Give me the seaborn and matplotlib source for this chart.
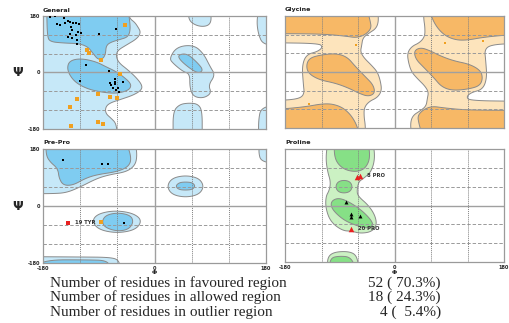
import numpy as np
import pandas as pd
import matplotlib
matplotlib.use("Agg")
import matplotlib.pyplot as plt
import seaborn as sns

sns.set_theme(style="white")
plt.rcParams['font.family'] = ['DejaVu Sans']

# ---------------- colours ----------------
BLUE_DARK, BLUE_LIGHT = "#7FCCF1", "#C6E8F8"
ORANGE_DARK, ORANGE_LIGHT = "#F7B866", "#FDE4BC"
GREEN_DARK, GREEN_LIGHT = "#86E086", "#CBF1C3"
EDGE = "#8A8A8A"

# ---------------- region outlines (phi, psi) ----------------
general_allowed = [
    [(-200, 200), (-44, 200), (-40, 172), (-32, 160), (-27, 146), (-22, 128), (-28, 108), (-45, 88),
     (-60, 70), (-62, 50), (-57, 30), (-44, 10), (-30, -15), (-20, -40), (-21, -56), (-34, -72),
     (-55, -86), (-72, -97), (-79, -110), (-79, -130), (-70, -146), (-62, -162), (-60, -200), (-200, -200)],
    [(55, 200), (55, 172), (61, 156), (74, 146), (87, 149), (92, 166), (90, 200)],
    [(24, 45), (30, 29), (46, 3), (57, -4), (57, -50), (63, -77), (79, -82), (92, -66), (87, -40),
     (98, -8), (90, 18), (79, 61), (63, 88), (36, 82)],
    [(30, -200), (30, -125), (40, -102), (55, -97), (70, -100), (77, -122), (77, -200)],
    [(200, 200), (168, 200), (165, 160), (168, 120), (175, 90), (200, 85)],
    [(200, -200), (168, -200), (168, -150), (172, -112), (200, -102)],
]
general_favoured = [
    [(-200, 200), (-43, 200), (-40, 166), (-39, 134), (-43, 113), (-56, 105), (-70, 97), (-78, 86),
     (-79, 60), (-83, 44), (-91, 41), (-99, 60), (-107, 81), (-121, 92), (-148, 94), (-168, 98),
     (-173, 113), (-174, 200)],
    [(-132, 41), (-116, 44), (-94, 34), (-78, 18), (-64, 5), (-51, -12), (-38, -35), (-39, -51),
     (-48, -61), (-64, -67), (-88, -62), (-110, -51), (-129, -30), (-140, 2), (-140, 28)],
    [(38, 56), (52, 61), (68, 34), (79, 8), (71, -3), (57, 13), (41, 40)],
]

gly_allowed_half = [
    [(-200, 200), (-28, 200), (-26, 165), (-30, 140), (-42, 125), (-52, 110), (-54, 85), (-56, 65),
     (-50, 45), (-38, 22), (-28, 0), (-23, -30), (-21, -60), (-28, -82), (-42, -95), (-50, -115),
     (-50, -145), (-48, -170), (-48, -200), (-200, -200), (-200, -92), (-160, -88), (-148, -73),
     (-150, -36), (-152, 20), (-145, 56), (-126, 66), (-118, 80), (-124, 92), (-200, 94)],
]
gly_favoured_half = [
    [(-200, 200), (-45, 200), (-40, 165), (-38, 140), (-48, 120), (-62, 110), (-80, 115),
     (-110, 121), (-150, 123), (-200, 123)],
    [(-124, 54), (-97, 60), (-78, 49), (-64, 17), (-48, -15), (-35, -41), (-32, -68), (-43, -79),
     (-59, -68), (-75, -52), (-97, -36), (-124, -25), (-142, -4), (-145, 22), (-140, 44)],
    [(-200, -200), (-200, -121), (-150, -113), (-113, -100), (-91, -108), (-75, -130), (-63, -165),
     (-58, -200)],
]

prepro_allowed = [
    [(-200, 200), (-31, 200), (-28, 161), (-31, 129), (-45, 108), (-72, 99), (-93, 87), (-120, 60),
     (-142, 42), (-164, 39), (-200, 39)],
    [(20, 62), (28, 88), (50, 97), (72, 88), (80, 62), (72, 36), (50, 27), (28, 36)],
    [(-101, -48), (-92, -25), (-65, -14), (-35, -22), (-20, -45), (-30, -75), (-60, -86), (-90, -75)],
    [(-200, -200), (-200, -160), (-120, -161), (-70, -162), (-57, -172), (-56, -200)],
    [(200, 200), (170, 200), (168, 170), (172, 140), (200, 134)],
]
prepro_favoured = [
    [(-175, 200), (-45, 200), (-37, 150), (-42, 124), (-61, 108), (-93, 99), (-112, 87), (-131, 66),
     (-147, 65), (-154, 87), (-156, 118), (-169, 140), (-175, 161)],
    [(34, 63), (40, 74), (50, 76), (61, 74), (66, 63), (61, 52), (50, 50), (39, 52)],
    [(-85, -48), (-78, -28), (-58, -21), (-38, -30), (-34, -52), (-42, -74), (-60, -80), (-80, -68)],
    [(-200, -200), (-177, -170), (-110, -170), (-75, -172), (-72, -200)],
]

pro_allowed = [
    [(-110, 200), (-35, 200), (-32, 150), (-38, 108), (-51, 86), (-59, 76), (-62, 44), (-59, 28),
     (-43, 1), (-32, -31), (-29, -63), (-38, -84), (-56, -89), (-70, -82), (-86, -80), (-105, -52),
     (-113, -10), (-113, 28), (-107, 49), (-105, 76), (-110, 108), (-113, 150)],
    [(-110, -200), (-110, -164), (-99, -148), (-75, -146), (-62, -159), (-59, -200)],
]
pro_favoured = [
    [(-99, 200), (-43, 200), (-40, 150), (-48, 118), (-62, 107), (-81, 113), (-94, 134), (-99, 161)],
    [(-97, 60), (-93, 76), (-83, 81), (-73, 76), (-69, 60), (-73, 44), (-83, 39), (-93, 44)],
    [(-102, 17), (-91, 24), (-75, 12), (-54, -15), (-38, -47), (-35, -65), (-46, -73), (-64, -63),
     (-83, -47), (-99, -20), (-105, 1)],
    [(-107, -200), (-105, -167), (-91, -161), (-72, -164), (-64, -200)],
]

# ---------------- residues ----------------
general_fav_phi = [-169, -160, -146, -158, -153, -144, -140, -136, -132, -126, -122, -134, -133, -136,
                   -140, -133, -126, -123, -118, -125, -125, -89, -62, -110, -120, -73, -64, -72, -70,
                   -64, -67, -59, -62, -57, -51, -64]
general_fav_psi = [177, 179, 175, 153, 150, 158, 164, 160, 158, 159, 156, 145, 134, 124, 113, 110, 120,
                   129, 127, 103, 90, 124, 137, 23, -27, 4, -22, -35, -40, -37, -48, -48, -56, -61,
                   -30, -30]
general_alw_phi = [-47, -109, -105, -86, -56, -91, -72, -61, -125, -137, -92, -83, -135]
general_alw_psi = [150, 73, 63, 41, -5, -67, -77, -80, -83, -109, -157, -165, -170]

gly_alw_phi = [-63, -140, 83, 145]
gly_alw_psi = [86, -103, 92, 100]

prepro_fav_phi = [-147, -85, -75, -49]
prepro_fav_psi = [145, 134, 134, -53]
prepro_alw_phi = [-87]
prepro_alw_psi = [-49]
prepro_out_phi = [-139]
prepro_out_psi = [-53]
prepro_out_lab = ["19 TYR"]

pro_fav_phi = [-80, -71, -71, -56]
pro_fav_psi = [12, -26, -36, -33]
pro_out_phi = [-62, -57, -71]
pro_out_psi = [90, 94, -74]
pro_out_lab = ["", "8 PRO", "20 PRO"]

summary_labels = ["Number of residues in favoured region",
                  "Number of residues in allowed region",
                  "Number of residues in outlier region"]
summary_values = ["52 ( 70.3%)", "18 ( 24.3%)", "4 (  5.4%)"]


def smooth(poly, n=3):
    pts = []
    for p in poly:
        pts.append(p)
        if abs(p[0]) >= 185 or abs(p[1]) >= 185:
            pts.append(p)
    P = np.array(pts, float)
    for _ in range(n):
        N = np.roll(P, -1, axis=0)
        Q = 0.75 * P + 0.25 * N
        R = 0.25 * P + 0.75 * N
        P = np.empty((2 * len(P), 2))
        P[0::2] = Q
        P[1::2] = R
    return P


def draw_regions(ax, polys, color):
    for poly in polys:
        P = smooth(poly)
        ax.fill(P[:, 0], P[:, 1], facecolor=color, edgecolor=EDGE, linewidth=0.7, zorder=1)


def mirror(polys):
    return [[(-a, -b) for a, b in poly] for poly in polys]


def style_axes(ax, bottom, left):
    ax.set_xlim(-180, 180)
    ax.set_ylim(-180, 180)
    for v in (-120, -60, 60, 120):
        ax.axvline(v, color="#808080", lw=0.7, ls=(0, (1, 1)), zorder=2)
        ax.axhline(v, color="#9A9A9A", lw=0.7, ls=(0, (3.5, 2)), zorder=2)
    ax.axvline(0, color="#A0A0A0", lw=1.0, zorder=2)
    ax.axhline(0, color="#A0A0A0", lw=1.0, zorder=2)
    for s in ax.spines.values():
        s.set_color("#9A9A9A")
        s.set_linewidth(0.9)
    ax.set_xticks([-180, 0, 180])
    ax.set_yticks([-180, 0, 180])
    ax.tick_params(length=0, labelsize=3.6, pad=2)
    if bottom:
        ax.set_xticklabels(["-180", "0", "180"], fontweight="bold")
    else:
        ax.set_xticklabels([])
    if left:
        ax.set_yticklabels(["-180", "0", "180"], fontweight="bold")
    else:
        ax.set_yticklabels([])
    ax.set_xlabel("")
    ax.set_ylabel("")


def scatter(ax, phi, psi, color, marker, size):
    df = pd.DataFrame({"phi": phi, "psi": psi})
    sns.scatterplot(data=df, x="phi", y="psi", color=color, marker=marker, s=size,
                    linewidth=0, ax=ax, zorder=5, legend=False)
    ax.set_xlabel("")
    ax.set_ylabel("")


W, H = 509, 323
fig = plt.figure(figsize=(W / 100, H / 100), dpi=100)

def add_ax(l, t, r, b):
    return fig.add_axes([l / W, 1 - b / H, (r - l) / W, (b - t) / H])

ax_gen = add_ax(43, 16, 266, 129)
ax_gly = add_ax(285, 16, 504, 128)
ax_pre = add_ax(43, 149, 266, 263)
ax_pro = add_ax(285, 149, 504, 262)

# General
draw_regions(ax_gen, general_allowed, BLUE_LIGHT)
draw_regions(ax_gen, general_favoured, BLUE_DARK)
style_axes(ax_gen, bottom=False, left=True)
scatter(ax_gen, general_alw_phi, general_alw_psi, "#F0A020", "s", 6)
scatter(ax_gen, general_fav_phi, general_fav_psi, "black", "s", 4.5)

# Glycine
draw_regions(ax_gly, gly_allowed_half + mirror(gly_allowed_half), ORANGE_LIGHT)
draw_regions(ax_gly, gly_favoured_half + mirror(gly_favoured_half), ORANGE_DARK)
style_axes(ax_gly, bottom=False, left=False)
scatter(ax_gly, gly_alw_phi, gly_alw_psi, "#F0A020", "s", 4.5)

# Pre-Pro
draw_regions(ax_pre, prepro_allowed, BLUE_LIGHT)
draw_regions(ax_pre, prepro_favoured, BLUE_DARK)
style_axes(ax_pre, bottom=True, left=True)
scatter(ax_pre, prepro_alw_phi, prepro_alw_psi, "#F0A020", "s", 6)
scatter(ax_pre, prepro_fav_phi, prepro_fav_psi, "black", "s", 4.5)
scatter(ax_pre, prepro_out_phi, prepro_out_psi, "#E82020", "s", 7)
for x, y, t in zip(prepro_out_phi, prepro_out_psi, prepro_out_lab):
    ax_pre.text(x + 11, y, t, fontsize=3.8, fontweight="bold", color="#333333", va="center", zorder=6)

# Proline
draw_regions(ax_pro, pro_allowed, GREEN_LIGHT)
draw_regions(ax_pro, pro_favoured, GREEN_DARK)
style_axes(ax_pro, bottom=True, left=False)
scatter(ax_pro, pro_fav_phi, pro_fav_psi, "black", "^", 8)
scatter(ax_pro, pro_out_phi, pro_out_psi, "#E82020", "^", 16)
for x, y, t in zip(pro_out_phi, pro_out_psi, pro_out_lab):
    if t:
        ax_pro.text(x + 11, y, t, fontsize=3.8, fontweight="bold", color="#333333", va="center", zorder=6)

# titles
for x, y, t in [(43, 10, "General"), (285, 10, "Glycine"), (43, 143, "Pre-Pro"), (285, 143, "Proline")]:
    fig.text(x / W, 1 - y / H, t, fontsize=4.6, fontweight="bold", va="center", ha="left", color="#222222")

# psi / phi symbols
for y in (72, 206):
    fig.text(18 / W, 1 - y / H, "Ψ", fontsize=9, fontweight="bold", ha="center", va="center")
for x in (154.5, 394.5):
    fig.text(x / W, 1 - 273 / H, "Φ", fontsize=4.5, fontweight="bold", ha="center", va="center")

# summary lines
for i, (lab, val) in enumerate(zip(summary_labels, summary_values)):
    y = 283 + 14.6 * i
    fig.text(50 / W, 1 - y / H, lab, fontsize=11, family="Liberation Serif", ha="left", va="center")
    fig.text(441 / W, 1 - y / H, val, fontsize=11, family="Liberation Serif", ha="right", va="center")

fig.savefig("out.png", dpi=100)
